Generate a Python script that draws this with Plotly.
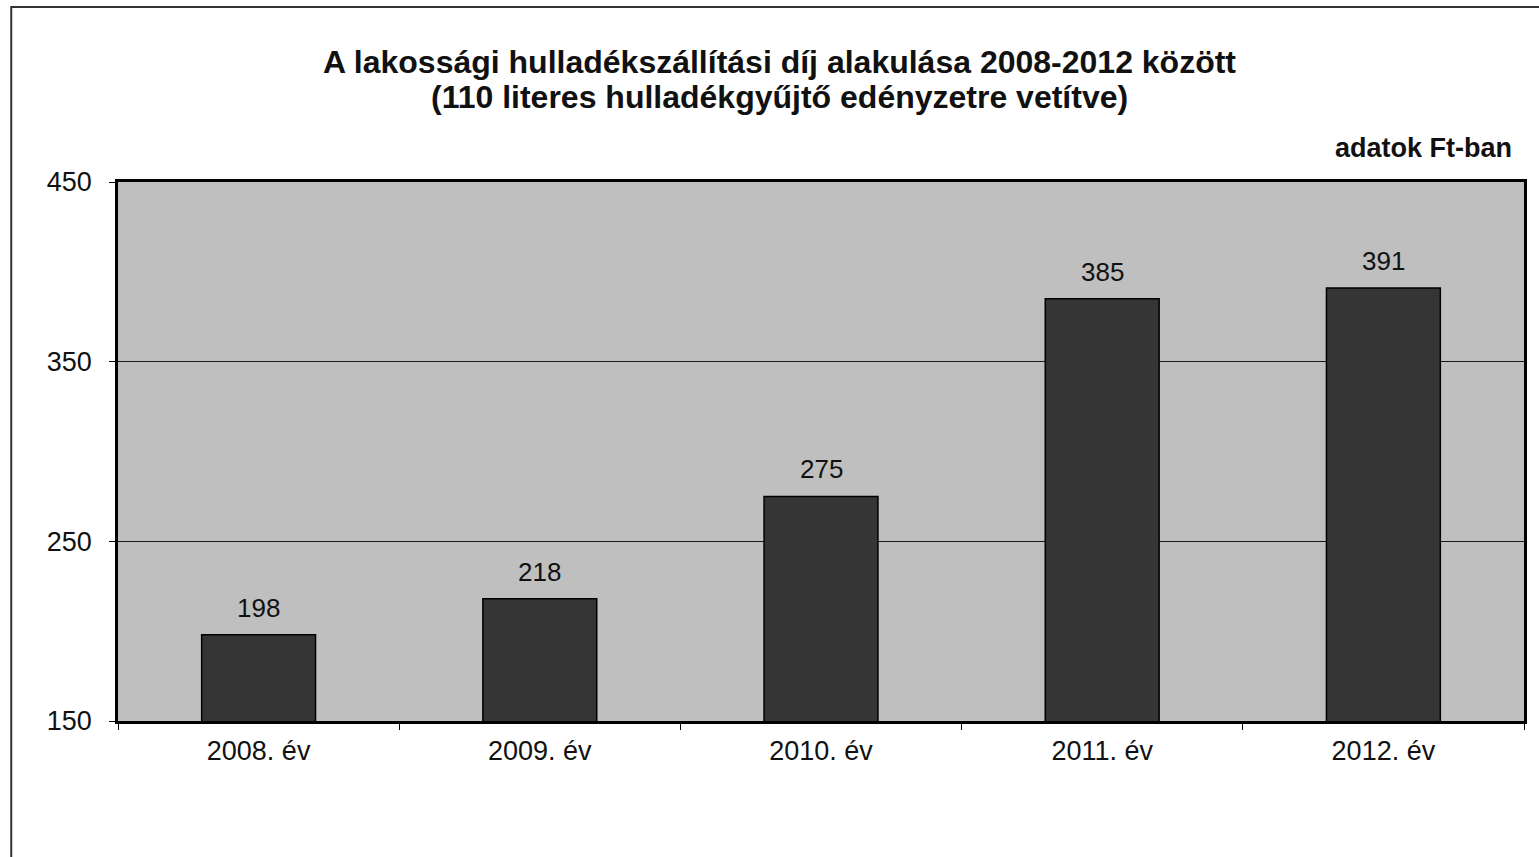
import plotly.graph_objects as go

categories = ["2008. év", "2009. év", "2010. év", "2011. év", "2012. év"]
values = [198, 218, 275, 385, 391]
y_ticks = [150, 250, 350, 450]

FONT = "Liberation Sans, Arial, sans-serif"
INK = "#111111"

fig = go.Figure(go.Bar(
    x=categories, y=values,
    marker=dict(color="#353535", line=dict(color="#000000", width=1.5)),
))

# value labels above bars
for c, v in zip(categories, values):
    fig.add_annotation(
        x=c, y=v, text=str(v), showarrow=False,
        xanchor="center", yanchor="middle", yshift=27,
        font=dict(family=FONT, size=26, color=INK),
    )

fig.update_layout(
    width=1539, height=857,
    margin=dict(l=118, r=12, t=182, b=136),
    paper_bgcolor="white", plot_bgcolor="#bfbfbf",
    bargap=0.595, showlegend=False,
    font=dict(family=FONT, color=INK),
)

fig.update_xaxes(
    showline=True, linecolor="black", linewidth=2.5, mirror=True,
    ticks="outside", tickson="boundaries", ticklen=6, tickcolor="black",
    tickfont=dict(family=FONT, size=27, color=INK),
    ticklabelstandoff=4,
    showgrid=False,
)
fig.update_yaxes(
    range=[150, 450], tickvals=y_ticks,
    showline=True, linecolor="black", linewidth=2.5, mirror=True,
    ticks="outside", ticklen=6, tickcolor="black",
    tickfont=dict(family=FONT, size=27, color=INK),
    ticklabelstandoff=12,
    showgrid=True, gridcolor="#1a1a1a", gridwidth=1,
)

# title lines
fig.add_annotation(
    text="<b>A lakossági hulladékszállítási díj alakulása 2008-2012 között</b>",
    xref="paper", yref="paper", x=(781 - 118) / 1409, y=1 + (182 - 62) / 539,
    xanchor="center", yanchor="middle", showarrow=False,
    font=dict(family=FONT, size=32, color=INK),
)
fig.add_annotation(
    text="<b>(110 literes hulladékgyűjtő edényzetre vetítve)</b>",
    xref="paper", yref="paper", x=(781 - 118) / 1409, y=1 + (182 - 97) / 539,
    xanchor="center", yanchor="middle", showarrow=False,
    font=dict(family=FONT, size=32, color=INK),
)

fig.add_annotation(
    text="<b>adatok Ft-ban</b>", xref="paper", yref="paper",
    x=(1517 - 118) / 1409, y=1 + (182 - 148) / 539,
    xanchor="right", yanchor="middle",
    showarrow=False, font=dict(family=FONT, size=27, color=INK),
)

# outer frame
fig.add_shape(type="rect", xref="paper", yref="paper",
              x0=(11 - 118) / 1409, x1=1.03, y0=-0.35, y1=1 + (182 - 7) / 539,
              line=dict(color="#333333", width=2), layer="below")

fig.write_html("out.html", config={"displayModeBar": False},
               post_script="document.body.style.margin='0';")
